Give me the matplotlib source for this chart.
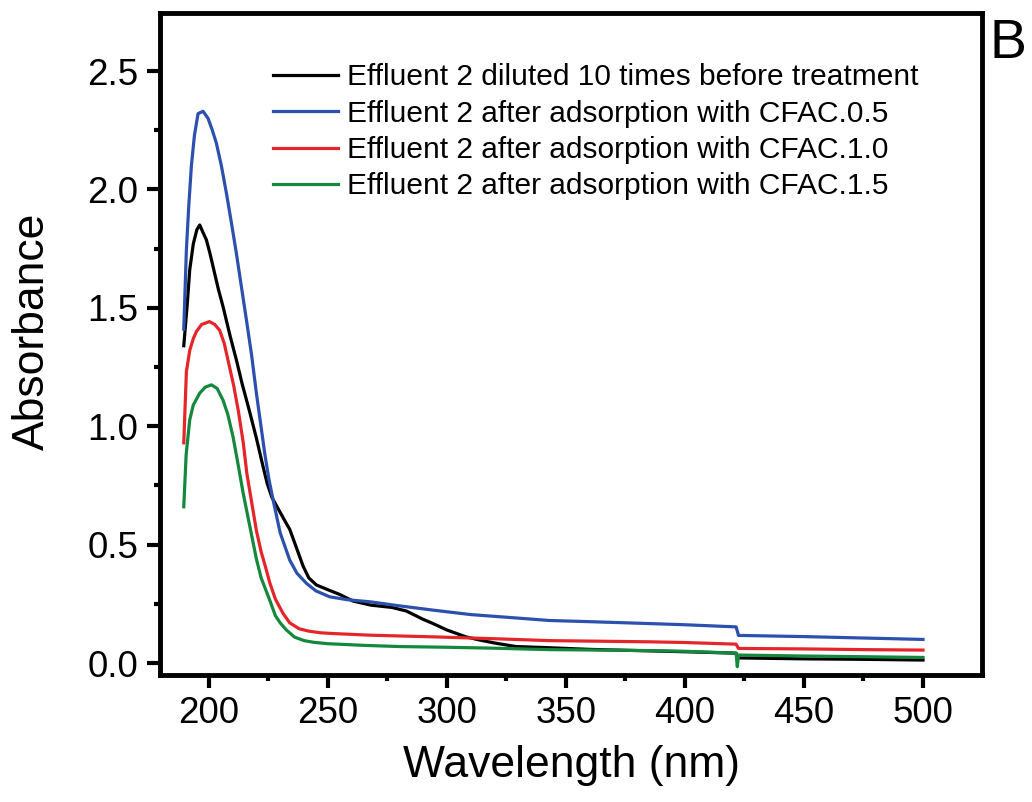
import matplotlib
matplotlib.use("Agg")
import matplotlib.pyplot as plt
from matplotlib.ticker import MultipleLocator

plt.rcParams["font.family"] = ["Liberation Sans", "DejaVu Sans"]

# wavelength (nm) / absorbance pairs
wl_raw = [189.5, 191, 192, 193.5, 195, 196.2, 197.5, 199, 200.5, 201.8, 204, 206, 209,
          211.6, 214, 217.2, 220, 222.8, 224.5, 226.5, 229.8, 232, 234, 236, 239.6, 242, 245.2,
          250, 255, 260.6, 268, 277, 283, 290, 294, 300, 308, 314, 320, 329, 343, 360,
          380, 400, 421.5, 422.5, 450, 475, 500]
abs_raw = [1.34, 1.52, 1.66, 1.77, 1.83, 1.85, 1.82, 1.787, 1.73, 1.674, 1.58, 1.505, 1.38,
           1.28, 1.18, 1.06, 0.95, 0.83, 0.76, 0.70, 0.64, 0.60, 0.565, 0.51, 0.41, 0.36, 0.33,
           0.31, 0.29, 0.262, 0.245, 0.235, 0.22, 0.185, 0.168, 0.14, 0.111, 0.097, 0.085,
           0.07, 0.065, 0.058, 0.053, 0.048, 0.042, 0.022, 0.018, 0.016, 0.013]

wl_05 = [189.5, 190.6, 191.6, 192.7, 194, 195.5, 197.6, 199.7, 201.5, 203.2, 205.3, 207.4,
         209.5, 211.6, 213.7, 215.8, 218, 220, 221.8, 223.5, 225.2, 227, 230, 234, 237, 241, 245,
         250.8, 258, 267.6, 280, 294, 310, 330, 343, 360, 385, 400, 421.5, 422.5, 450, 475, 500]
abs_05 = [1.41, 1.745, 1.93, 2.10, 2.23, 2.32, 2.33, 2.30, 2.25, 2.195, 2.10, 1.985,
          1.86, 1.73, 1.59, 1.45, 1.30, 1.14, 1.01, 0.886, 0.78, 0.69, 0.55, 0.435, 0.38, 0.337,
          0.305, 0.28, 0.268, 0.259, 0.242, 0.224, 0.205, 0.19, 0.18, 0.175, 0.167, 0.162,
          0.153, 0.117, 0.112, 0.106, 0.100]

wl_10 = [189.5, 190.6, 192, 193.5, 194.8, 197, 200.3, 202.5, 204.6, 206.5, 208.5, 210.5,
         212.5, 214.5, 216, 218, 220, 222, 224, 225.6, 228, 231.2, 234, 238, 242, 247, 252,
         267.6, 294, 320, 343, 385, 400, 421.5, 422.5, 450, 475, 500]
abs_10 = [0.93, 1.23, 1.32, 1.37, 1.40, 1.43, 1.442, 1.43, 1.405, 1.35, 1.26, 1.17,
          1.06, 0.93, 0.80, 0.68, 0.56, 0.47, 0.40, 0.34, 0.27, 0.21, 0.17, 0.145, 0.135,
          0.128, 0.125, 0.118, 0.111, 0.103, 0.095, 0.09, 0.087, 0.08, 0.062, 0.06, 0.057, 0.055]

wl_15 = [189.5, 190.5, 192, 193.5, 196.2, 198.5, 201.1, 203.5, 206, 208, 210.2, 212.3, 214.4,
         216.2, 218, 220, 222, 225.6, 228, 230, 232.6, 236, 240, 244, 250, 265, 280, 300, 320, 343,
         385, 400, 421.5, 422, 422.5, 450, 475, 500]
abs_15 = [0.66, 0.88, 1.027, 1.09, 1.14, 1.165, 1.175, 1.16, 1.11, 1.05, 0.955, 0.84, 0.72,
          0.63, 0.54, 0.44, 0.36, 0.266, 0.2, 0.17, 0.14, 0.11, 0.095, 0.088, 0.082, 0.075, 0.07,
          0.067, 0.063, 0.057, 0.053, 0.05, 0.042, -0.015, 0.034, 0.03, 0.027, 0.024]

labels = ["Effluent 2 diluted 10 times before treatment",
          "Effluent 2 after adsorption with CFAC.0.5",
          "Effluent 2 after adsorption with CFAC.1.0",
          "Effluent 2 after adsorption with CFAC.1.5"]
colors = ["black", "#2b50ad", "#e4262b", "#14883d"]

fig = plt.figure(figsize=(10.32, 8.02), dpi=100)
ax = fig.add_axes([0.155, 0.1584, 0.7966, 0.8254])

series = [(wl_raw, abs_raw), (wl_05, abs_05), (wl_10, abs_10), (wl_15, abs_15)]
for (x, y), lab, c in zip(series, labels, colors):
    ax.plot(x, y, color=c, lw=2.3, label=lab)

ax.set_xlim(179.5, 524.8)
ax.set_ylim(-0.05, 2.745)
ax.xaxis.set_major_locator(MultipleLocator(50))
ax.xaxis.set_minor_locator(MultipleLocator(25))
ax.yaxis.set_major_locator(MultipleLocator(0.5))
ax.yaxis.set_minor_locator(MultipleLocator(0.25))
ax.yaxis.set_major_formatter(plt.FormatStrFormatter("%.1f"))

for s in ax.spines.values():
    s.set_linewidth(3.5)
ax.tick_params(which="major", direction="out", length=9.5, width=3, labelsize=26.5, pad=6)
ax.tick_params(which="minor", direction="out", length=4.5, width=3)
ax.tick_params(top=False, right=False)

ax.set_xlabel("Wavelength (nm)", fontsize=32)
ax.set_ylabel("Absorbance", fontsize=32)
ax.xaxis.set_label_coords(0.5, -0.106)
ax.yaxis.set_label_coords(-0.130, 0.519)

ax.legend(loc="upper left", bbox_to_anchor=(0.1375, 0.924), frameon=False,
          fontsize=21.5, handlelength=2.17, handletextpad=0.3, labelspacing=0.28,
          borderpad=0, borderaxespad=0)

fig.text(0.959, 0.978, "B", fontsize=40, ha="left", va="top")

fig.savefig("out.png", dpi=100)
